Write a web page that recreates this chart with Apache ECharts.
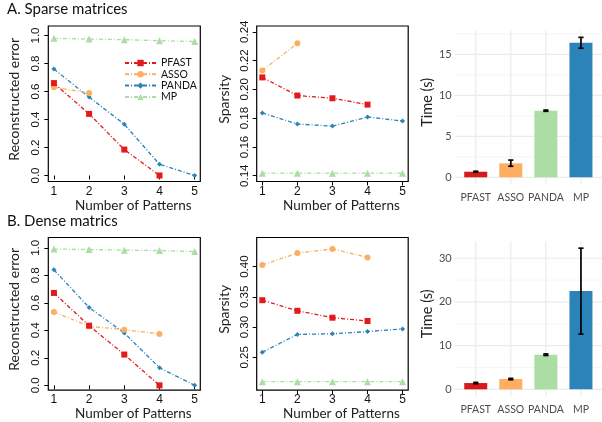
<!DOCTYPE html>
<html><head><meta charset="utf-8">
<script src="https://cdn.jsdelivr.net/npm/echarts@6/dist/echarts.min.js"></script>
<style>html,body{margin:0;padding:0;background:#fff}#c{width:602px;height:422px}</style>
</head><body><div id="c"></div>
<script>
// ---------- data ----------
const patterns = [1, 2, 3, 4, 5];
const methods = ['PFAST', 'ASSO', 'PANDA', 'MP'];
// A. Sparse matrices: reconstructed error
const sparseErrPFAST = [0.66, 0.44, 0.185, 0.0];
const sparseErrASSO = [0.63, 0.59];
const sparseErrPANDA = [0.76, 0.56, 0.366, 0.08, 0.0];
const sparseErrMP = [0.98, 0.975, 0.97, 0.963, 0.957];
// A. Sparse matrices: sparsity
const sparseSpPFAST = [0.2083, 0.1957, 0.1938, 0.1894];
const sparseSpASSO = [0.2131, 0.232];
const sparseSpPANDA = [0.1836, 0.1759, 0.1745, 0.1808, 0.178];
const sparseSpMP = [0.1418, 0.1418, 0.1418, 0.1418, 0.1418];
// B. Dense matrices: reconstructed error
const denseErrPFAST = [0.672, 0.434, 0.224, 0.0];
const denseErrASSO = [0.534, 0.429, 0.405, 0.374];
const denseErrPANDA = [0.84, 0.566, 0.381, 0.128, 0.0];
const denseErrMP = [0.991, 0.988, 0.983, 0.98, 0.973];
// B. Dense matrices: sparsity
const denseSpPFAST = [0.3445, 0.327, 0.3156, 0.3102];
const denseSpASSO = [0.4028, 0.4223, 0.4293, 0.4152];
const denseSpPANDA = [0.2585, 0.288, 0.289, 0.2927, 0.2971];
const denseSpMP = [0.21, 0.21, 0.21, 0.21, 0.21];
// Time (s)
const sparseTime = [0.68, 1.7, 8.12, 16.4];
const sparseTimeLo = [0.62, 1.35, 8.05, 15.75];
const sparseTimeHi = [0.74, 2.1, 8.2, 17.07];
const denseTime = [1.44, 2.36, 7.92, 22.5];
const denseTimeLo = [1.3, 2.2, 7.75, 12.65];
const denseTimeHi = [1.58, 2.5, 8.1, 32.3];
// tick labels
const errTicks = [0, 0.2, 0.4, 0.6, 0.8, 1.0];
const sparseSpTicks = [0.14, 0.16, 0.18, 0.20, 0.22, 0.24];
const denseSpTicks = [0.25, 0.30, 0.35, 0.40];
const sparseTimeTicks = [0, 5, 10, 15];
const sparseTimeMinor = [2.5, 7.5, 12.5, 17.5];
const denseTimeTicks = [0, 10, 20, 30];
const denseTimeMinor = [5, 15, 25];

// ---------- styles ----------
const lineColors = {PFAST: '#e31a1c', ASSO: '#fdae61', PANDA: '#2b83ba', MP: '#abdda4'};
const barColors = ['#d7191c', '#fdae61', '#abdda4', '#2b83ba'];
const symbols = {PFAST: 'rect', ASSO: 'circle', PANDA: 'diamond', MP: 'triangle'};
const symSizes = {PFAST: 6, ASSO: 6, PANDA: 5, MP: 7};
const RF = 'Liberation Sans';
const TF = 'Lato';

const grids = [
  {left: 48.3, top: 26, width: 152, height: 155.5},
  {left: 256.7, top: 26, width: 151.5, height: 155.5},
  {left: 454.7, top: 30.4, width: 154, height: 153.9},
  {left: 48.3, top: 237.5, width: 152, height: 154.5},
  {left: 256.7, top: 237.5, width: 151.5, height: 154.5},
  {left: 454.7, top: 241.2, width: 154, height: 155.2}
].map((g, i) => Object.assign(g, (i % 3 !== 2) ? {show: true, borderColor: '#000', borderWidth: 1.2, backgroundColor: 'transparent'} : {}));

function rX(gi) {
  return {
    type: 'value', gridIndex: gi, min: 0.84, max: 5.16,
    axisLine: {show: false}, splitLine: {show: false},
    axisTick: {show: true, length: 4, customValues: patterns, lineStyle: {color: '#000', width: 1}},
    axisLabel: {customValues: patterns, margin: 4, fontFamily: RF, fontSize: 12, color: '#111'},
    name: 'Number of Patterns', nameLocation: 'middle', nameGap: 13,
    nameTextStyle: {fontFamily: TF, fontSize: 13.5, color: '#222', padding: [0, 0, 0, 18]}
  };
}
function rY(gi, min, max, ticks, dec, name, gap) {
  return {
    type: 'value', gridIndex: gi, min: min, max: max,
    axisLine: {show: false}, splitLine: {show: false},
    axisTick: {show: true, length: 4, customValues: ticks, lineStyle: {color: '#000', width: 1}},
    axisLabel: {customValues: ticks, rotate: 90, margin: 6, fontFamily: RF, fontSize: 11.5, color: '#111',
      formatter: v => Number(v).toFixed(dec)},
    name: name, nameLocation: 'middle', nameGap: gap,
    nameTextStyle: {fontFamily: TF, fontSize: 14, color: '#222', padding: [0, 0, 0, 9]}
  };
}
function bX(gi) {
  return {
    type: 'value', gridIndex: gi, min: -0.6, max: 3.6,
    axisLine: {show: false}, axisTick: {show: false}, splitLine: {show: false},
    axisLabel: {customValues: [0, 1, 2, 3], margin: 8, fontFamily: TF, fontSize: 10.5, color: '#4d4d4d',
      formatter: v => methods[Math.round(v)]}
  };
}
function bY(gi, min, max, ticks) {
  return {
    type: 'value', gridIndex: gi, min: min, max: max,
    axisLine: {show: false}, axisTick: {show: false}, splitLine: {show: false},
    axisLabel: {customValues: ticks, margin: 3, fontFamily: TF, fontSize: 11, color: '#4d4d4d'},
    name: 'Time (s)', nameLocation: 'middle', nameGap: 15,
    nameTextStyle: {fontFamily: TF, fontSize: 14.5, color: '#222', padding: [0, 0, 0, 10]}
  };
}

const xAxis = [rX(0), rX(1), bX(2), rX(3), rX(4), bX(5)];
const yAxis = [
  rY(0, -0.043, 1.068, errTicks, 1, 'Reconstructed error', 27),
  rY(1, 0.136, 0.244, sparseSpTicks, 2, 'Sparsity', 25),
  bY(2, -0.854, 17.92, sparseTimeTicks),
  rY(3, -0.0345, 1.075, errTicks, 1, 'Reconstructed error', 27),
  rY(4, 0.196, 0.4481, denseSpTicks, 2, 'Sparsity', 25),
  bY(5, -1.615, 33.9, denseTimeTicks)
];

const series = [];
function lineSet(gi, sets) {
  methods.forEach((m, k) => {
    series.push({
      type: 'line', name: m, xAxisIndex: gi, yAxisIndex: gi,
      data: sets[k].map((v, i) => [patterns[i], v]),
      symbol: symbols[m], symbolSize: symSizes[m],
      itemStyle: {color: lineColors[m]},
      lineStyle: {color: lineColors[m], width: 1.3, type: [4, 2, 1, 2]},
      emphasis: {disabled: true}, animation: false, z: 3 + (3 - k)
    });
  });
}
lineSet(0, [sparseErrPFAST, sparseErrASSO, sparseErrPANDA, sparseErrMP]);
lineSet(1, [sparseSpPFAST, sparseSpASSO, sparseSpPANDA, sparseSpMP]);
lineSet(3, [denseErrPFAST, denseErrASSO, denseErrPANDA, denseErrMP]);
lineSet(4, [denseSpPFAST, denseSpASSO, denseSpPANDA, denseSpMP]);

function barSet(gi, vals, lo, hi, major, minor) {
  // grid lines (kind 0 = major horizontal, 1 = minor horizontal, 2 = vertical)
  const gl = major.map(v => [v, 0]).concat(minor.map(v => [v, 1])).concat([0, 1, 2, 3].map(v => [v, 2]));
  series.push({
    type: 'custom', xAxisIndex: gi, yAxisIndex: gi, silent: true, animation: false, z: 1,
    data: gl,
    renderItem: (params, api) => {
      const cs = params.coordSys;
      const v = api.value(0), kind = api.value(1);
      if (kind === 2) {
        const x = api.coord([v, 0])[0];
        return {type: 'line', shape: {x1: x, y1: cs.y, x2: x, y2: cs.y + cs.height},
          style: {stroke: '#ebebeb', lineWidth: 1.2}};
      }
      const y = api.coord([0, v])[1];
      return {type: 'line', shape: {x1: cs.x, y1: y, x2: cs.x + cs.width, y2: y},
        style: {stroke: kind === 0 ? '#ebebeb' : '#f3f3f3', lineWidth: kind === 0 ? 1.2 : 0.8}};
    }
  });
  series.push({
    type: 'bar', xAxisIndex: gi, yAxisIndex: gi, barWidth: 23, animation: false, z: 2,
    data: vals.map((v, i) => ({value: [i, v], itemStyle: {color: barColors[i]}})),
    emphasis: {disabled: true}
  });
  series.push({
    type: 'custom', xAxisIndex: gi, yAxisIndex: gi, silent: true, animation: false, z: 3,
    data: vals.map((v, i) => [i, lo[i], hi[i]]),
    renderItem: (params, api) => {
      const x = api.value(0);
      const p1 = api.coord([x, api.value(2)]), p2 = api.coord([x, api.value(1)]);
      const hw = 2.6, st = {stroke: '#000', lineWidth: 1.7};
      return {type: 'group', children: [
        {type: 'line', shape: {x1: p1[0], y1: p1[1], x2: p2[0], y2: p2[1]}, style: st},
        {type: 'line', shape: {x1: p1[0] - hw, y1: p1[1], x2: p1[0] + hw, y2: p1[1]}, style: st},
        {type: 'line', shape: {x1: p2[0] - hw, y1: p2[1], x2: p2[0] + hw, y2: p2[1]}, style: st}
      ]};
    }
  });
}
barSet(2, sparseTime, sparseTimeLo, sparseTimeHi, sparseTimeTicks, sparseTimeMinor);
barSet(5, denseTime, denseTimeLo, denseTimeHi, denseTimeTicks, denseTimeMinor);

const chart = echarts.init(document.getElementById('c'), null, {renderer: 'canvas'});
chart.setOption({
  animation: false,
  backgroundColor: '#fff',
  title: [
    {text: 'A. Sparse matrices', left: 7, top: 2, padding: 0, textStyle: {fontFamily: TF, fontSize: 15, fontWeight: 'normal', color: '#111'}},
    {text: 'B. Dense matrics', left: 7, top: 213.5, padding: 0, textStyle: {fontFamily: TF, fontSize: 15, fontWeight: 'normal', color: '#111'}}
  ],
  legend: {
    data: methods, left: 124, top: 57.5, orient: 'vertical', selectedMode: false,
    itemWidth: 31, itemHeight: 8, itemGap: 0.3, padding: 0,
    textStyle: {fontFamily: TF, fontSize: 10.5, color: '#111', lineHeight: 11}
  },
  grid: grids,
  xAxis: xAxis,
  yAxis: yAxis,
  series: series
});
</script></body></html>
